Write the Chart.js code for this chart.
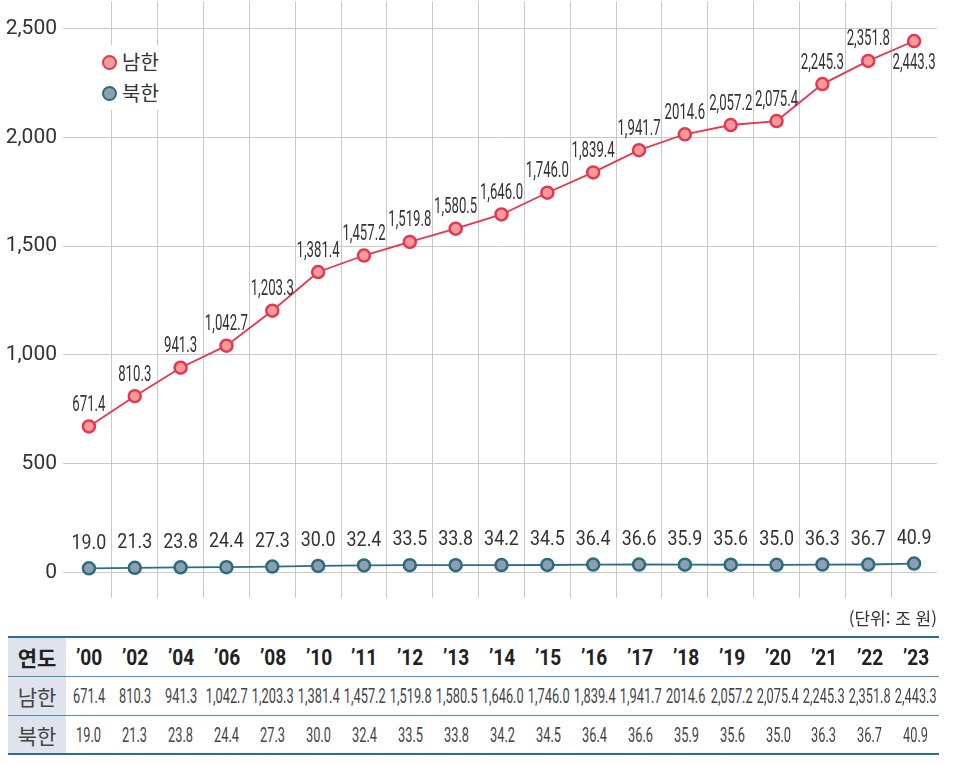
<!DOCTYPE html>
<html lang="ko">
<head>
<meta charset="utf-8">
<script src="https://cdn.jsdelivr.net/npm/chart.js@4.4.1/dist/chart.umd.min.js"></script>
<style>
  body { margin: 0; background: #fff; width: 955px; height: 765px; position: relative; overflow: hidden;
         font-family: Roboto, "Noto Sans CJK KR", sans-serif; color: #333; }
  #wrap { position: absolute; left: 0; top: -7px; width: 955px; height: 613px; }
  #legend { position: absolute; left: 85px; top: 45px; width: 88px; height: 65px; background: #fff;
            font-family: "Noto Sans CJK KR", sans-serif; font-size: 20px; color: #333; }
  #legend .item { position: absolute; left: 17px; height: 24px; line-height: 24px; display: flex; align-items: center; }
  #legend .dot { width: 11px; height: 11px; border-radius: 50%; border: 2.5px solid; margin-right: 5px; }
  #unit { position: absolute; right: 18px; top: 605px; font-family: "Noto Sans CJK KR", sans-serif; font-size: 17px; color: #333; }
  table { position: absolute; left: 8px; top: 636px; border-collapse: collapse; table-layout: fixed; width: 931px; }
  td { padding: 0; overflow: visible; white-space: nowrap; }
  tr.h td { height: 38px; border-top: 2px solid #2a6e96; border-bottom: 1.5px solid #4f8fb8; }
  tr.s td { height: 38px; border-bottom: 1.5px solid #4f8fb8; }
  tr.n td { height: 37px; border-bottom: 2px solid #2a6e96; }
  td.lab { background: #dfe4ec; text-align: center; font-family: "Noto Sans CJK KR", sans-serif; font-size: 21px; color: #444; }
  tr.h td.lab { font-weight: bold; color: #222; }
  .c { display: flex; justify-content: center; }
  .c span { display: inline-block; flex-shrink: 0; transform: scaleX(0.64); font-size: 20px; color: #444; }
  tr.h .c span { transform: scaleX(0.87); font-size: 22px; font-weight: bold; color: #222; }
</style>
</head>
<body>
<div id="wrap"><canvas id="gdpChart"></canvas></div>
<div id="legend">
  <div class="item" style="top:5px"><span class="dot" style="background:#f29b9b;border-color:#e8364f"></span>남한</div>
  <div class="item" style="top:36px"><span class="dot" style="background:#8d9fac;border-color:#2a6a82"></span>북한</div>
</div>
<div id="unit">(단위: 조 원)</div>
<table id="dataTable"></table>
<script>
// years and values (조 원)
const years = ['\u201900', '\u201902', '\u201904', '\u201906', '\u201908', '\u201910', '\u201911', '\u201912', '\u201913', '\u201914',
               '\u201915', '\u201916', '\u201917', '\u201918', '\u201919', '\u201920', '\u201921', '\u201922', '\u201923'];
const south = [671.4, 810.3, 941.3, 1042.7, 1203.3, 1381.4, 1457.2, 1519.8, 1580.5, 1646.0,
               1746.0, 1839.4, 1941.7, 2014.6, 2057.2, 2075.4, 2245.3, 2351.8, 2443.3];
const north = [19.0, 21.3, 23.8, 24.4, 27.3, 30.0, 32.4, 33.5, 33.8, 34.2,
               34.5, 36.4, 36.6, 35.9, 35.6, 35.0, 36.3, 36.7, 40.9];
const southText = ['671.4', '810.3', '941.3', '1,042.7', '1,203.3', '1,381.4', '1,457.2', '1,519.8', '1,580.5', '1,646.0',
                   '1,746.0', '1,839.4', '1,941.7', '2014.6', '2,057.2', '2,075.4', '2,245.3', '2,351.8', '2,443.3'];
const northText = north.map(v => v.toFixed(1));
const yTicks = [0, 500, 1000, 1500, 2000, 2500];

// labels above the points, drawn narrow like the original
const valueLabels = {
    id: 'valueLabels',
    afterDatasetsDraw(chart) {
        const ctx = chart.ctx;
        chart.data.datasets.forEach((ds, di) => {
            const meta = chart.getDatasetMeta(di);
            meta.data.forEach((pt, i) => {
                let dy = ds.labelOffset;
                if (di === 0 && i === meta.data.length - 1) dy = 22;
                ctx.save();
                ctx.translate(pt.x, pt.y + dy);
                ctx.scale(ds.labelScale, 1);
                ctx.font = ds.labelSize + 'px Roboto';
                ctx.fillStyle = '#333';
                ctx.textAlign = 'center';
                ctx.textBaseline = 'middle';
                ctx.fillText(ds.labelText[i], 0, 0);
                ctx.restore();
            });
        });
    }
};

const ctx = document.getElementById('gdpChart').getContext('2d');
new Chart(ctx, {
    type: 'line',
    data: {
        labels: years,
        datasets: [{
            label: '남한',
            data: south,
            borderColor: '#e8364f',
            borderWidth: 1.8,
            pointBackgroundColor: '#f29b9b',
            pointBorderColor: '#e8364f',
            pointBorderWidth: 2.5,
            pointRadius: 6,
            labelText: southText,
            labelOffset: -21,
            labelScale: 0.6,
            labelSize: 22
        }, {
            label: '북한',
            data: north,
            borderColor: '#2a6e85',
            borderWidth: 1.8,
            pointBackgroundColor: '#8d9fac',
            pointBorderColor: '#2a6a82',
            pointBorderWidth: 2.5,
            pointRadius: 6,
            labelText: northText,
            labelOffset: -25,
            labelScale: 0.85,
            labelSize: 21
        }]
    },
    options: {
        responsive: true,
        maintainAspectRatio: false,
        animation: false,
        layout: { padding: { left: 0, right: 18, top: 0, bottom: 0 } },
        plugins: {
            legend: { display: false },
            tooltip: { enabled: false }
        },
        scales: {
            x: {
                offset: true,
                grid: {
                    offset: true,
                    drawTicks: false,
                    color: (c) => (c.type !== 'tick' || c.index === 0) ? 'rgba(0,0,0,0)' : '#c9c9c9'
                },
                border: { display: false },
                ticks: { display: false },
                afterFit: (scale) => { scale.height = 0; scale.paddingLeft = 0; scale.paddingRight = 0; }
            },
            y: {
                min: -115,
                max: 2625,
                afterBuildTicks: (scale) => {
                    scale.ticks = yTicks.map(v => ({ value: v }));
                },
                afterFit: (scale) => { scale.width = 66; scale.paddingTop = 0; scale.paddingBottom = 0; },
                grid: { color: '#c9c9c9', tickLength: 3 },
                border: { display: false },
                ticks: {
                    padding: 6,
                    color: '#333',
                    font: { family: 'Roboto', size: 21 },
                    callback: (v) => v.toLocaleString('en-US')
                }
            }
        }
    },
    plugins: [valueLabels]
});

// data table under the chart
const table = document.getElementById('dataTable');
const colgroup = document.createElement('colgroup');
colgroup.innerHTML = '<col style="width:58px">' + years.map(() => '<col style="width:45.95px">').join('');
table.appendChild(colgroup);
function addRow(cls, head, cells) {
    const tr = document.createElement('tr');
    tr.className = cls;
    tr.innerHTML = '<td class="lab">' + head + '</td>' +
        cells.map(t => '<td><div class="c"><span>' + t + '</span></div></td>').join('');
    table.appendChild(tr);
}
addRow('h', '연도', years);
addRow('s', '남한', southText);
addRow('n', '북한', northText);
</script>
</body>
</html>
